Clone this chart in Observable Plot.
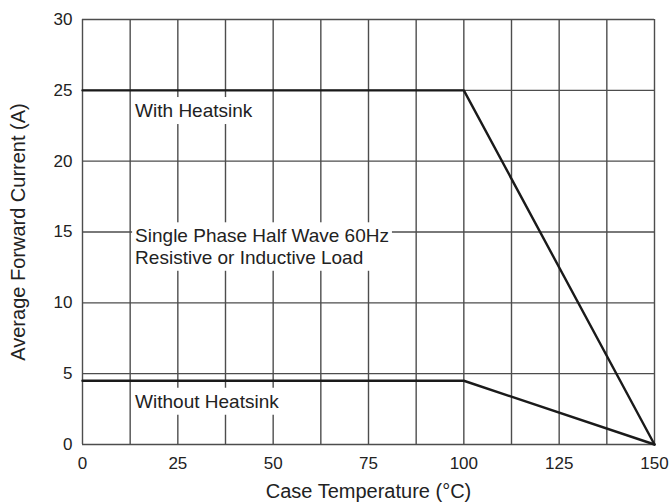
<!DOCTYPE html>
<html><head><meta charset="utf-8">
<script src="https://cdn.jsdelivr.net/npm/d3@7"></script>
<script src="https://cdn.jsdelivr.net/npm/@observablehq/plot@0.6"></script>
<style>body{margin:0;background:#fff}svg{display:block}</style>
</head><body><div id="chart"></div>
<script>
const caseTemp = [0, 100, 150];
const currentWithHeatsink = [25, 25, 0];
const currentWithoutHeatsink = [4.5, 4.5, 0];
const xTickValues = [0, 25, 50, 75, 100, 125, 150];
const yTickValues = [0, 5, 10, 15, 20, 25, 30];
const xGridValues = [0, 12.5, 25, 37.5, 50, 62.5, 75, 87.5, 100, 112.5, 125, 137.5, 150];
const yGridValues = [0, 5, 10, 15, 20, 25, 30];
const annotationText = ["With Heatsink", "Single Phase Half Wave 60Hz\nResistive or Inductive Load", "Without Heatsink"];
const annotationX = [13.8, 13.8, 13.8];
const annotationY = [23.6, 14, 3.08];
const xLabel = "Case Temperature (°C)";
const yLabel = "Average Forward Current (A)";

const font = "'Liberation Sans', Arial, Helvetica, sans-serif";
const series = [
  ...caseTemp.map((t, i) => ({t, a: currentWithHeatsink[i], s: "with"})),
  ...caseTemp.map((t, i) => ({t, a: currentWithoutHeatsink[i], s: "without"}))
];
const annotations = annotationText.map((text, i) => ({text, x: annotationX[i], y: annotationY[i]}));

const plot = Plot.plot({
  width: 672, height: 504,
  marginLeft: 82, marginRight: 18, marginTop: 19, marginBottom: 60,
  style: {fontFamily: font, background: "#fff", color: "#222"},
  x: {domain: [0, 150]},
  y: {domain: [0, 30]},
  marks: [
    Plot.ruleX(xGridValues, {stroke: "#4d4d4d", strokeWidth: 1.4}),
    Plot.ruleY(yGridValues, {stroke: "#4d4d4d", strokeWidth: 1.4}),
    Plot.text(annotations, {x: "x", y: "y", text: "text", textAnchor: "start", fontSize: 19, lineHeight: 1.13, fill: "#222", className: "anno"}),
    Plot.line(series, {x: "t", y: "a", z: "s", stroke: "#1a1a1a", strokeWidth: 2.4}),
    Plot.axisX(xTickValues, {tickSize: 0, tickPadding: 12, fontSize: 17, label: null, fill: "#222"}),
    Plot.axisY(yTickValues, {tickSize: 0, tickPadding: 10, fontSize: 17, label: null, fill: "#222"}),
    Plot.text([xLabel], {frameAnchor: "bottom", lineAnchor: "middle", textAnchor: "middle", dy: 47, fontSize: 20, fill: "#222"}),
    Plot.text([yLabel], {frameAnchor: "left", lineAnchor: "middle", textAnchor: "middle", dx: -64, rotate: -90, fontSize: 20, fill: "#222"})
  ]
});
document.getElementById("chart").appendChild(plot);

// white background boxes behind annotations, sized from the rendered text
const pad = 3;
plot.querySelectorAll(".anno text").forEach(t => {
  const b = t.getBBox();
  const tr = t.getAttribute("transform");
  const r = document.createElementNS("http://www.w3.org/2000/svg", "rect");
  r.setAttribute("x", b.x - pad);
  r.setAttribute("y", b.y - pad);
  r.setAttribute("width", b.width + 2 * pad);
  r.setAttribute("height", b.height + 2 * pad);
  r.setAttribute("fill", "#fff");
  r.setAttribute("stroke", "none");
  if (tr) r.setAttribute("transform", tr);
  t.parentNode.insertBefore(r, t);
});
</script></body></html>
